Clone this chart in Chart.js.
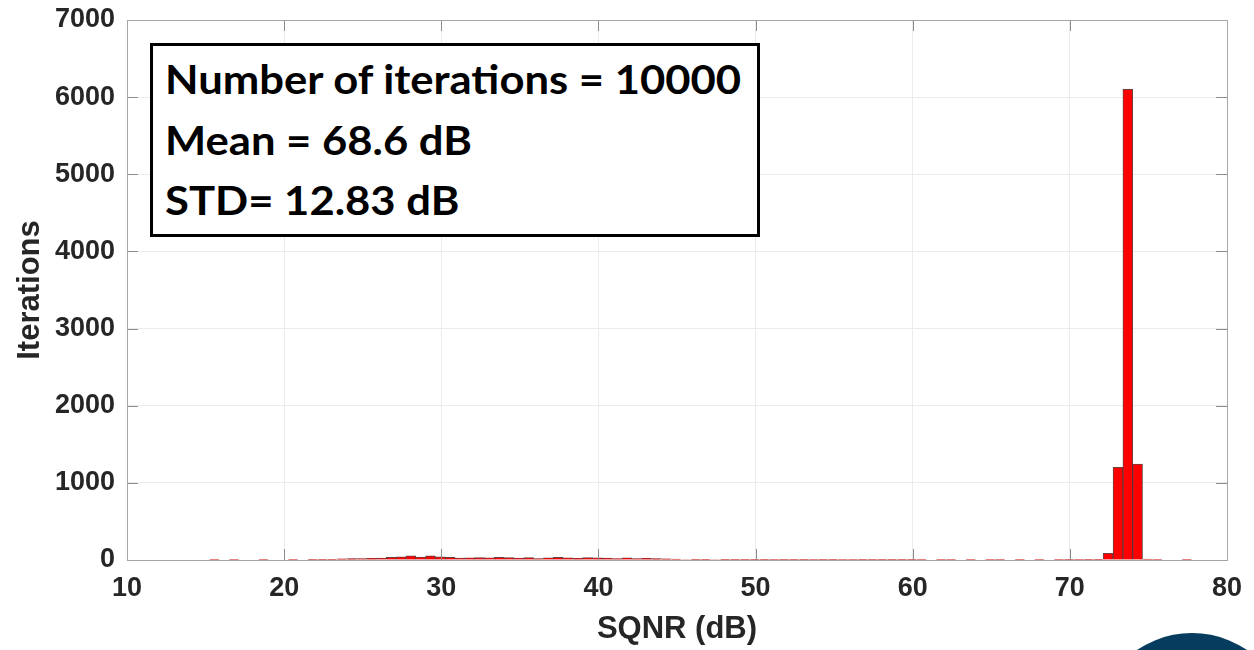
<!DOCTYPE html>
<html>
<head>
<meta charset="utf-8">
<script src="https://cdn.jsdelivr.net/npm/chart.js@4/dist/chart.umd.min.js"></script>
<style>
  html, body { margin: 0; padding: 0; background: #fff; }
  #wrap { position: relative; width: 1254px; height: 650px; overflow: hidden; }
  #sqnrCanvas { position: absolute; left: 0; top: 0; }
  #statsBox {
    position: absolute; left: 150px; top: 43px; width: 604px; height: 188px;
    border: 3px solid #000; background: #fff;
    font-family: Lato, 'Open Sans', sans-serif; font-weight: 700; font-size: 40px;
    color: #000; box-sizing: content-box;
  }
  #statsBox div {
    position: absolute; left: 12px; white-space: nowrap; line-height: 1;
    transform: scaleX(1.09); transform-origin: left top;
  }
  #badge {
    position: absolute; left: 1095px; top: 633px; width: 194px; height: 194px;
    border-radius: 50%; background: #063c5e;
  }
</style>
</head>
<body>
<div id="wrap">
  <canvas id="sqnrCanvas" width="1254" height="650"></canvas>
  <div id="statsBox"></div>
  <div id="badge"></div>
</div>
<script>
// histogram bins (dB), bin width 0.625
const binCenters = [
  15.5625, 16.1875, 16.8125, 17.4375, 18.0625, 18.6875, 19.3125, 19.9375, 20.5625, 21.1875,
  21.8125, 22.4375, 23.0625, 23.6875, 24.3125, 24.9375, 25.5625, 26.1875, 26.8125, 27.4375,
  28.0625, 28.6875, 29.3125, 29.9375, 30.5625, 31.1875, 31.8125, 32.4375, 33.0625, 33.6875,
  34.3125, 34.9375, 35.5625, 36.1875, 36.8125, 37.4375, 38.0625, 38.6875, 39.3125, 39.9375,
  40.5625, 41.1875, 41.8125, 42.4375, 43.0625, 43.6875, 44.3125, 44.9375, 45.5625, 46.1875,
  46.8125, 47.4375, 48.0625, 48.6875, 49.3125, 49.9375, 50.5625, 51.1875, 51.8125, 52.4375,
  53.0625, 53.6875, 54.3125, 54.9375, 55.5625, 56.1875, 56.8125, 57.4375, 58.0625, 58.6875,
  59.3125, 59.9375, 60.5625, 61.1875, 61.8125, 62.4375, 63.0625, 63.6875, 64.3125, 64.9375,
  65.5625, 66.1875, 66.8125, 67.4375, 68.0625, 68.6875, 69.3125, 69.9375, 70.5625, 71.1875,
  71.8125, 72.4375, 73.0625, 73.6875, 74.3125, 74.9375, 75.5625, 76.1875, 76.8125, 77.4375
];
const binCounts = [
  1, 0, 1, 0, 0, 1, 0, 0, 1, 0,
  2, 3, 5, 15, 18, 20, 22, 25, 35, 40,
  55, 38, 55, 40, 35, 25, 28, 30, 28, 35,
  30, 25, 30, 20, 28, 35, 28, 22, 30, 28,
  25, 20, 28, 20, 22, 18, 15, 12, 6, 5,
  3, 6, 3, 5, 5, 2, 2, 1, 4, 2,
  2, 1, 4, 2, 1, 1, 2, 4, 5, 4,
  4, 3, 1, 0, 1, 1, 0, 1, 0, 1,
  1, 0, 1, 0, 1, 0, 1, 3, 1, 8,
  10, 88, 1200, 6100, 1245, 12, 1, 0, 0, 1
];
const xTicks = [10, 20, 30, 40, 50, 60, 70, 80];
const yTicks = [0, 1000, 2000, 3000, 4000, 5000, 6000, 7000];
const statsLines = ['Number of iterations = 10000', 'Mean = 68.6 dB', 'STD= 12.83 dB'];

const box = document.getElementById('statsBox');
statsLines.forEach((line, i) => {
  const el = document.createElement('div');
  el.textContent = line;
  el.style.top = (13 + i * 60.5) + 'px';
  box.appendChild(el);
});

const tickFont = { family: "'Liberation Sans', Arial, sans-serif", size: 27, weight: 'bold' };
const titleFont = { family: "'Liberation Sans', Arial, sans-serif", size: 31, weight: 'bold' };

/**
 * MATLAB style axes: full box and inward tick marks on all four sides
 */
const axesBox = {
  id: 'axesBox',
  afterDraw(chart) {
    const { ctx, chartArea: { left, right, top, bottom }, scales: { x, y } } = chart;
    ctx.save();
    ctx.strokeStyle = '#8c8c8c';
    ctx.lineWidth = 1;
    xTicks.forEach(v => {
      const px = Math.round(x.getPixelForValue(v)) + 0.5;
      ctx.beginPath();
      ctx.moveTo(px, bottom); ctx.lineTo(px, bottom - 11);
      ctx.moveTo(px, top); ctx.lineTo(px, top + 11);
      ctx.stroke();
    });
    yTicks.forEach(v => {
      const py = Math.round(y.getPixelForValue(v)) + 0.5;
      ctx.beginPath();
      ctx.moveTo(left, py); ctx.lineTo(left + 11, py);
      ctx.moveTo(right, py); ctx.lineTo(right - 11, py);
      ctx.stroke();
    });
    ctx.strokeStyle = '#a6a6a6';
    ctx.strokeRect(left + 0.5, top + 0.5, right - left, bottom - top);
    ctx.restore();
  },
};

new Chart(document.getElementById('sqnrCanvas').getContext('2d'), {
  type: 'bar',
  data: {
    datasets: [{
      data: binCenters.map((c, i) => ({ x: c, y: binCounts[i] })),
      backgroundColor: '#ff0000',
      borderColor: 'rgba(60,0,0,0.75)',
      borderWidth: 1,
      borderSkipped: 'bottom',
      barPercentage: 1,
      categoryPercentage: 1,
    }],
  },
  options: {
    responsive: false,
    animation: false,
    layout: { padding: { top: 20, right: 27, bottom: 0, left: 0 } },
    plugins: { legend: { display: false }, tooltip: { enabled: false } },
    scales: {
      x: {
        type: 'linear',
        min: 10,
        max: 80,
        offset: false,
        afterFit(scale) {
          scale.height = 90;
          scale.paddingLeft = 0;
          scale.paddingRight = 0;
        },
        afterBuildTicks(scale) { scale.ticks = xTicks.map(v => ({ value: v })); },
        grid: { color: '#ebebeb', drawTicks: false, offset: false },
        border: { display: false },
        ticks: { font: tickFont, color: '#262626', padding: 12, maxRotation: 0, callback: v => String(v) },
        title: {
          display: true, text: 'SQNR (dB)', color: '#262626',
          font: titleFont, padding: { top: 0, bottom: 2 },
        },
      },
      y: {
        min: 0,
        max: 7000,
        afterFit(scale) {
          scale.width = 127;
          scale.paddingTop = 0;
          scale.paddingBottom = 0;
        },
        afterBuildTicks(scale) { scale.ticks = yTicks.map(v => ({ value: v })); },
        grid: { color: '#ebebeb', drawTicks: false },
        border: { display: false },
        ticks: { font: tickFont, color: '#262626', padding: 12, callback: v => String(v) },
        title: {
          display: true, text: 'Iterations', color: '#262626',
          font: titleFont, padding: { top: 12, bottom: 0 },
        },
      },
    },
  },
  plugins: [axesBox],
});
</script>
</body>
</html>
